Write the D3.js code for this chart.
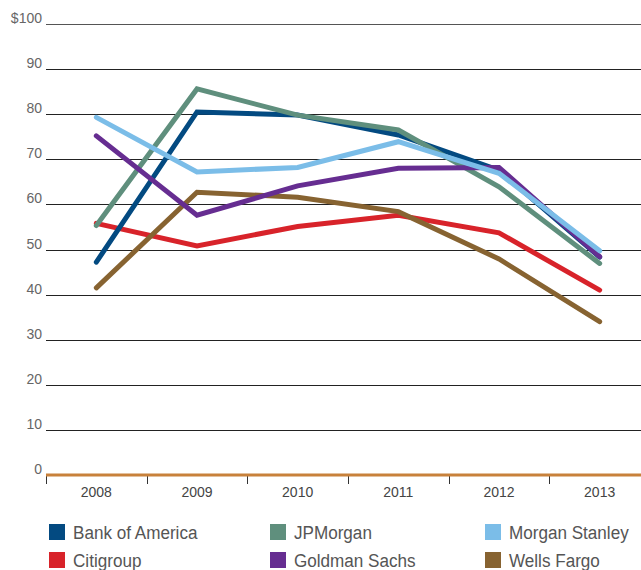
<!DOCTYPE html>
<html>
<head>
<meta charset="utf-8">
<script src="https://cdn.jsdelivr.net/npm/d3@7"></script>
<style>
  body { margin: 0; background: #fff; }
  svg { display: block; font-family: "Liberation Sans", Arial, sans-serif; }
</style>
</head>
<body>
<svg id="chart" width="641" height="570"></svg>
<script>
// Years along the bottom.
const years = ['2008', '2009', '2010', '2011', '2012', '2013'];

// Y ticks.
const yTicks = [0, 10, 20, 30, 40, 50, 60, 70, 80, 90, 100];

// One array per bank.
const bankOfAmerica = [47.2, 80.5, 79.8, 75.4, 67.6, 48.3];
const jpMorgan      = [55.3, 85.6, 79.8, 76.5, 63.9, 46.9];
const morganStanley = [79.3, 67.2, 68.2, 73.9, 66.9, 49.7];
const citigroup     = [55.8, 50.8, 55.1, 57.6, 53.7, 41.0];
const goldmanSachs  = [75.2, 57.6, 64.1, 68.0, 68.2, 48.4];
const wellsFargo    = [41.5, 62.7, 61.6, 58.4, 47.9, 34.0];

const names  = ['Bank of America', 'JPMorgan', 'Morgan Stanley', 'Citigroup', 'Goldman Sachs', 'Wells Fargo'];
const colors = ['#034a81', '#5f8f7d', '#7bbde8', '#d8232a', '#662d91', '#876331'];
const values = [bankOfAmerica, jpMorgan, morganStanley, citigroup, goldmanSachs, wellsFargo];

// Draw order (last is on top).
const drawOrder = [3, 5, 0, 1, 4, 2];

const svg = d3.select('#chart');

const x = d3.scaleBand().domain(years).range([46, 650]);
const y = d3.scaleLinear().domain([0, 100]).range([475, 24]);

// Gridlines.
svg.append('g')
  .selectAll('line')
  .data(yTicks.filter(d => d > 0))
  .join('line')
  .attr('x1', 46).attr('x2', 641)
  .attr('y1', d => Math.round(y(d)) + 0.5).attr('y2', d => Math.round(y(d)) + 0.5)
  .attr('stroke', d => d === 100 ? '#555' : '#222')
  .attr('stroke-width', 1);

// Y labels.
svg.append('g')
  .selectAll('text')
  .data(yTicks)
  .join('text')
  .attr('x', 42)
  .attr('y', d => y(d) - 1)
  .attr('text-anchor', 'end')
  .attr('font-size', 14)
  .attr('fill', '#666')
  .text(d => d === 100 ? '$100' : d);

// Baseline and ticks.
svg.append('g')
  .selectAll('line')
  .data(years.map(d => x(d)))
  .join('line')
  .attr('x1', d => Math.round(d) + 0.5).attr('x2', d => Math.round(d) + 0.5)
  .attr('y1', 476).attr('y2', 484)
  .attr('stroke', '#333').attr('stroke-width', 1);

svg.append('line')
  .attr('x1', 46).attr('x2', 641)
  .attr('y1', y(0)).attr('y2', y(0))
  .attr('stroke', '#c8813b').attr('stroke-width', 3);

// Year labels.
svg.append('g')
  .selectAll('text')
  .data(years)
  .join('text')
  .attr('x', d => x(d) + x.bandwidth() / 2)
  .attr('y', 497)
  .attr('text-anchor', 'middle')
  .attr('font-size', 14)
  .attr('fill', '#444')
  .text(d => d);

// Lines.
const line = d3.line()
  .x((d, i) => x(years[i]) + x.bandwidth() / 2)
  .y(d => y(d));

svg.append('g')
  .selectAll('path')
  .data(drawOrder)
  .join('path')
  .attr('d', i => line(values[i]))
  .attr('fill', 'none')
  .attr('stroke', i => colors[i])
  .attr('stroke-width', 5)
  .attr('stroke-linecap', 'round')
  .attr('stroke-linejoin', 'miter');

// Legend.
const legendX = [49, 270, 485];
const legendY = [524, 552];
const legend = svg.append('g')
  .selectAll('g')
  .data(names)
  .join('g')
  .attr('transform', (d, i) => `translate(${legendX[i % 3]}, ${legendY[Math.floor(i / 3)]})`);

legend.append('rect')
  .attr('width', 16).attr('height', 16)
  .attr('fill', (d, i) => colors[i]);

legend.append('text')
  .attr('transform', 'translate(24, 14.5) scale(0.9, 1)')
  .attr('font-size', 19)
  .attr('fill', '#555')
  .text(d => d);
</script>
</body>
</html>
